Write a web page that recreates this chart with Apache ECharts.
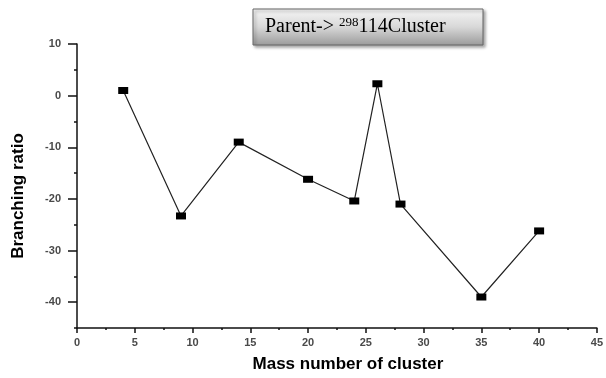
<!DOCTYPE html>
<html>
<head>
<meta charset="utf-8">
<script src="https://cdn.jsdelivr.net/npm/echarts@6/dist/echarts.min.js"></script>
<style>html,body{margin:0;padding:0;background:#fff;}#c{width:606px;height:378px;}</style>
</head>
<body>
<div id="c"></div>
<script>
const massNumbers = [4, 9, 14, 20, 24, 26, 28, 35, 40];
const branchingRatio = [1, -23.3, -9, -16.2, -20.4, 2.3, -21, -39, -26.2];
const xMajorTicks = [0, 5, 10, 15, 20, 25, 30, 35, 40, 45];
const xMinorTicks = [2.5, 7.5, 12.5, 17.5, 22.5, 27.5, 32.5, 37.5, 42.5];
const yMajorTicks = [-40, -30, -20, -10, 0, 10];
const yMinorTicks = [-45, -35, -25, -15, -5, 5];

const chart = echarts.init(document.getElementById('c'), null, {renderer: 'canvas'});
const labelStyle = {color: '#4a4a4a', fontFamily: 'Liberation Sans, Arial', fontWeight: 'bold', fontSize: 11};
chart.setOption({
  animation: false,
  backgroundColor: '#fff',
  grid: {left: 77, right: 8, top: 44, bottom: 46},
  xAxis: [{
    type: 'value', min: 0, max: 45,
    axisLine: {show: true, onZero: false, lineStyle: {color: '#111', width: 1.5}},
    axisTick: {show: true, customValues: xMajorTicks, length: 5, lineStyle: {color: '#111', width: 1.5}},
    axisLabel: {show: true, customValues: xMajorTicks, margin: 9, ...labelStyle},
    splitLine: {show: false},
    name: 'Mass number of cluster', nameLocation: 'middle', nameGap: 28,
    nameTextStyle: {color: '#000', fontFamily: 'Liberation Sans, Arial', fontWeight: 'bold', fontSize: 17, padding: [0, 0, 0, 22]}
  }, {
    type: 'value', min: 0, max: 45, position: 'bottom',
    axisLine: {show: false, onZero: false},
    axisTick: {show: true, customValues: xMinorTicks, length: 2, lineStyle: {color: '#111', width: 1.5}},
    axisLabel: {show: false},
    splitLine: {show: false}
  }],
  yAxis: [{
    type: 'value', min: -45, max: 10,
    axisLine: {show: true, onZero: false, lineStyle: {color: '#111', width: 1.5}},
    axisTick: {show: true, customValues: yMajorTicks, length: 9, lineStyle: {color: '#111', width: 1.5}},
    axisLabel: {show: true, customValues: yMajorTicks, margin: 16, ...labelStyle},
    splitLine: {show: false},
    name: 'Branching ratio', nameLocation: 'middle', nameGap: 50, nameRotate: 90,
    nameTextStyle: {color: '#000', fontFamily: 'Liberation Sans, Arial', fontWeight: 'bold', fontSize: 17, padding: [0, 20, 0, 0]}
  }, {
    type: 'value', min: -45, max: 10, position: 'left',
    axisLine: {show: false, onZero: false},
    axisTick: {show: true, customValues: yMinorTicks, length: 3, lineStyle: {color: '#111', width: 1.5}},
    axisLabel: {show: false},
    splitLine: {show: false}
  }],
  series: [{
    type: 'line',
    xAxisIndex: 0, yAxisIndex: 0,
    data: massNumbers.map((m, i) => [m, branchingRatio[i]]),
    symbol: 'rect', symbolSize: [10, 7],
    itemStyle: {color: '#000'},
    lineStyle: {color: '#222', width: 1.2},
    z: 3
  }],
  graphic: [{
    type: 'rect',
    shape: {x: 253, y: 9, width: 230, height: 36},
    style: {
      fill: new echarts.graphic.LinearGradient(0, 0, 0, 1, [
        {offset: 0, color: '#f6f6f6'},
        {offset: 0.5, color: '#d8d8d8'},
        {offset: 1, color: '#9a9a9a'}
      ]),
      stroke: '#666', lineWidth: 1,
      shadowBlur: 3, shadowOffsetX: 2, shadowOffsetY: 2, shadowColor: 'rgba(0,0,0,0.35)'
    },
    z: 10
  }, {
    type: 'text',
    x: 265, y: 27,
    style: {
      text: '{a|Parent-> }{s|298}{a|114Cluster}',
      verticalAlign: 'middle',
      rich: {
        a: {fontFamily: 'Liberation Serif, Times New Roman', fontSize: 20, fill: '#000', color: '#000'},
        s: {fontFamily: 'Liberation Serif, Times New Roman', fontSize: 13, fill: '#000', color: '#000', verticalAlign: 'top', padding: [0, 0, 8, 0]}
      }
    },
    z: 11
  }]
});
</script>
</body>
</html>
